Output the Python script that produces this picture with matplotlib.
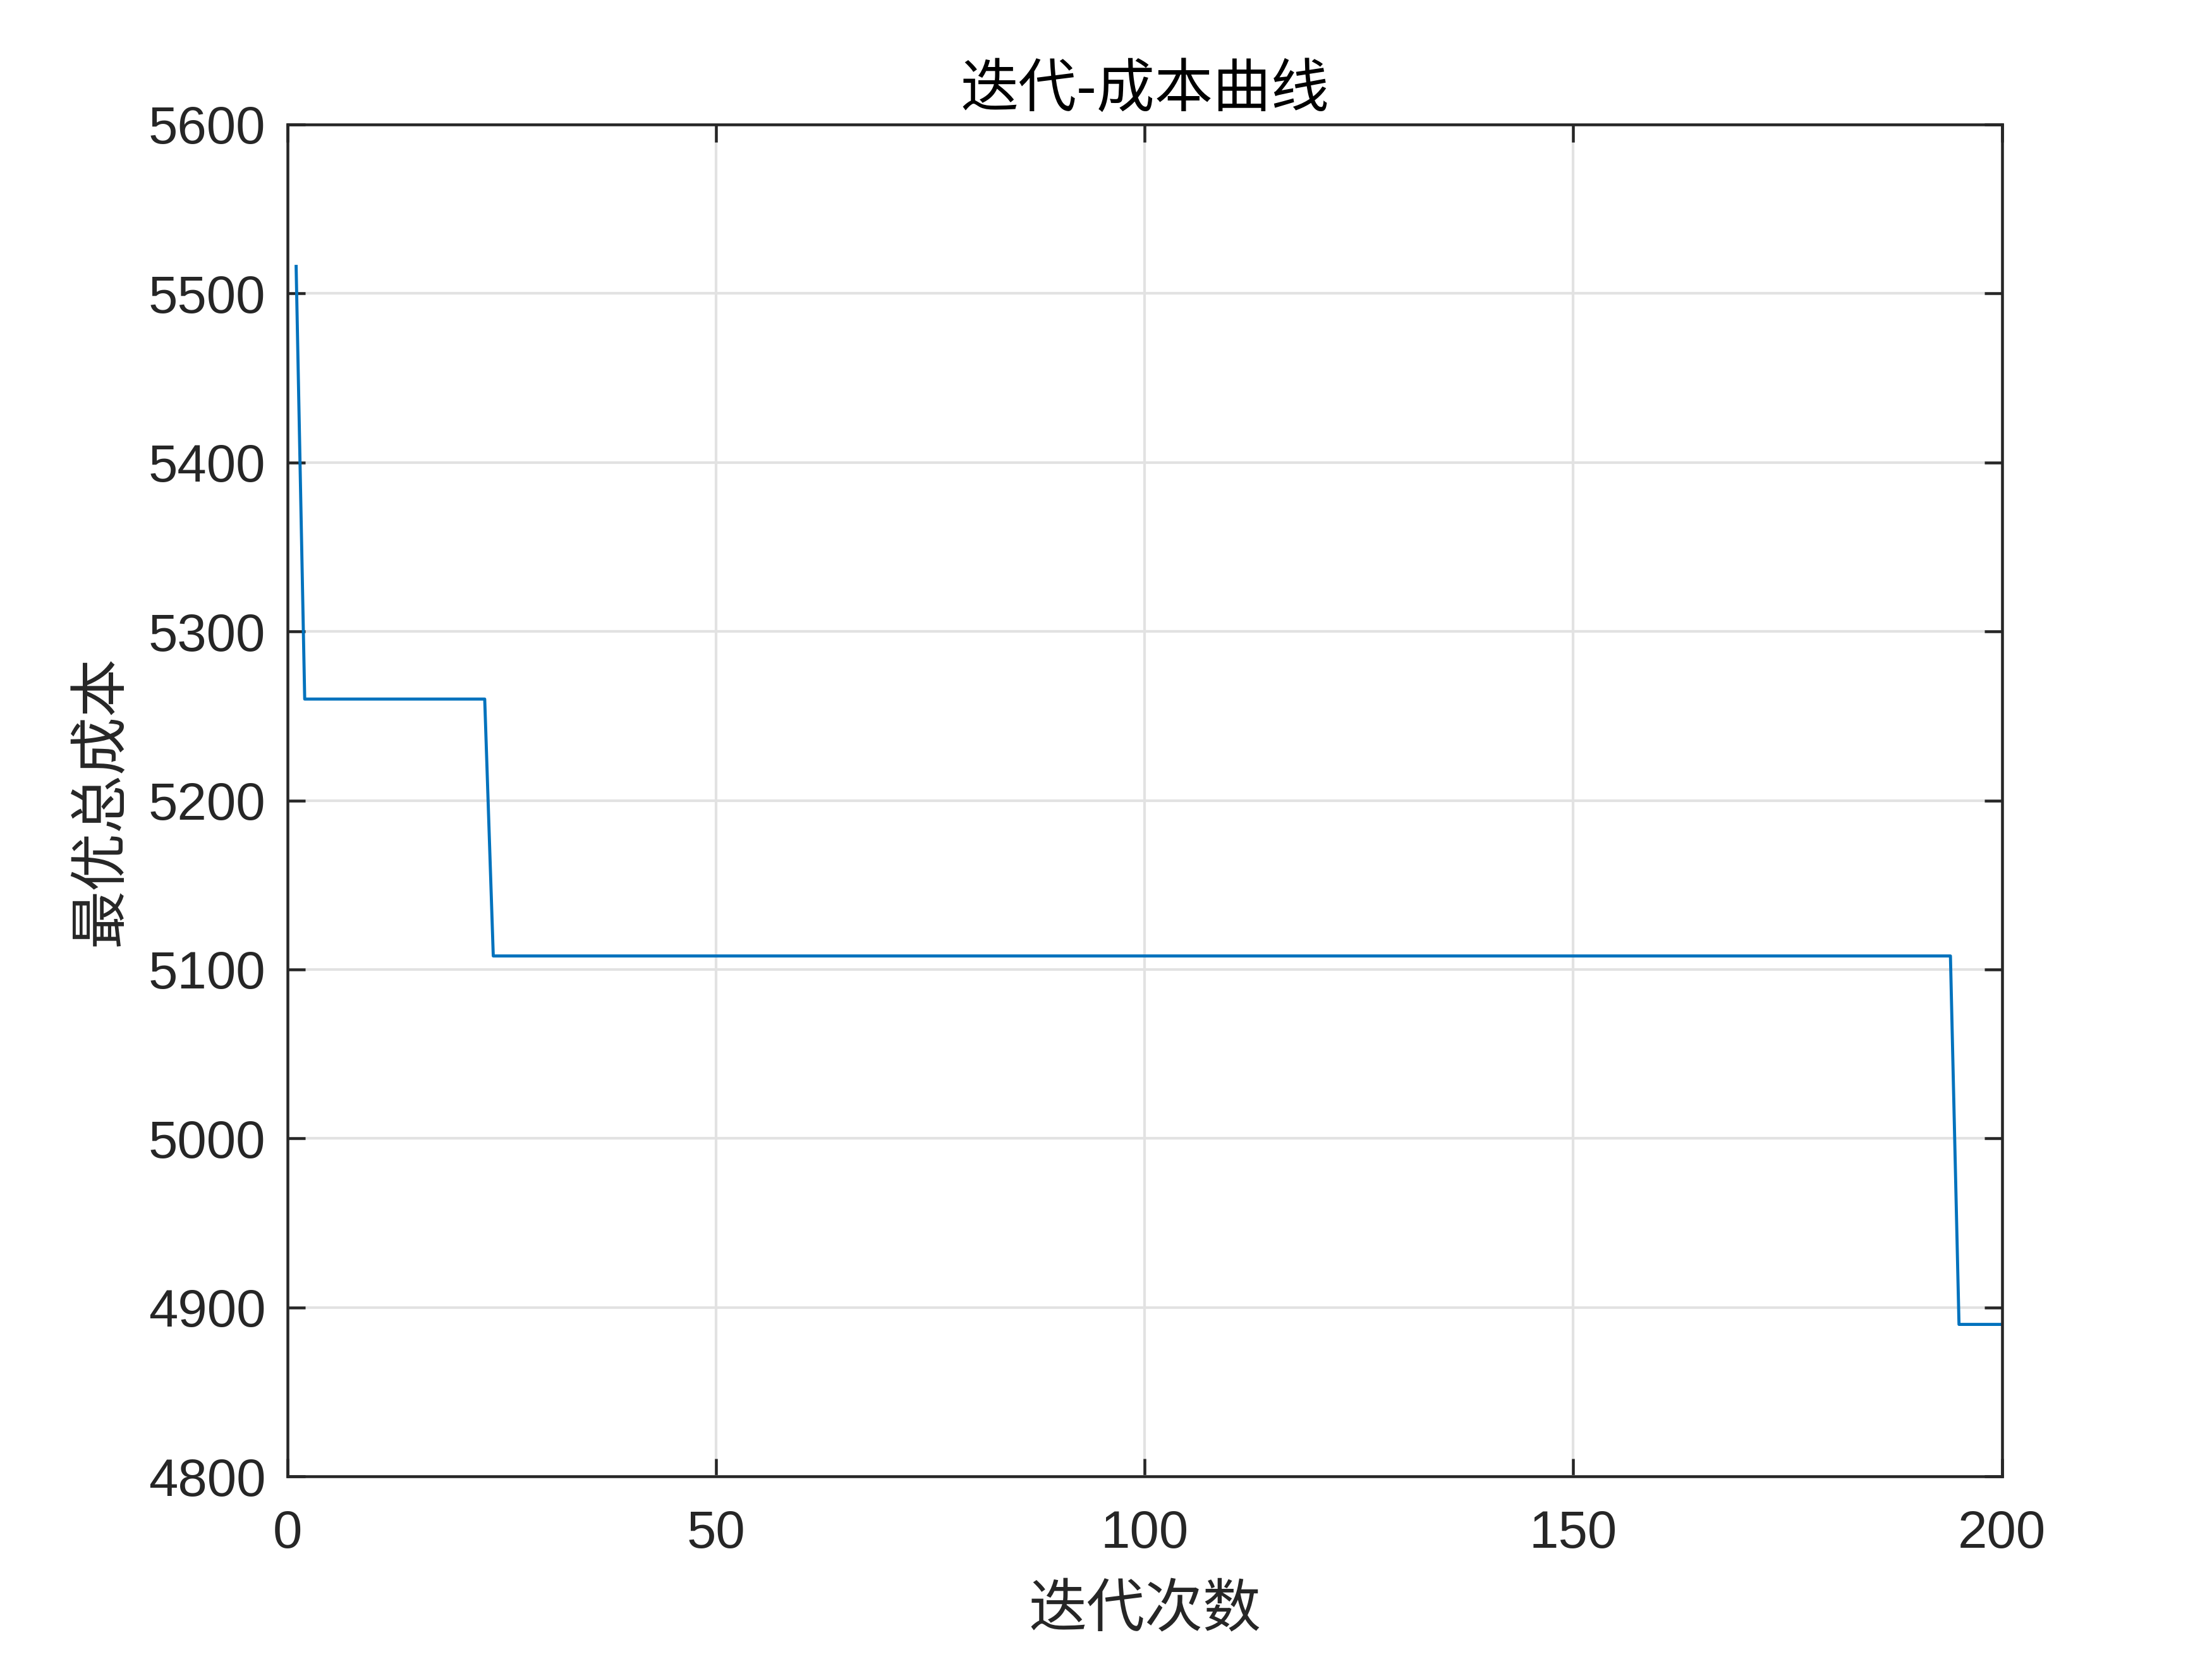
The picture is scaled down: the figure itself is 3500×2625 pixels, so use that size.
#!/usr/bin/env python3
"""
Iteration vs. best total cost curve (MATLAB-style figure).
Saves out.png
"""

import matplotlib
matplotlib.use("Agg")
import matplotlib.pyplot as plt

# step breakpoints of the best-cost history
iterations = [1, 2, 23, 24, 194, 195, 200]
best_cost = [5516, 5260, 5260, 5108, 5108, 4890, 4890]

x_ticks = [0, 50, 100, 150, 200]
y_ticks = [4800, 4900, 5000, 5100, 5200, 5300, 5400, 5500, 5600]

CJK = ["Noto Sans CJK SC", "DejaVu Sans"]
AXIS_GRAY = "#262626"

plt.rcParams["font.family"] = ["Liberation Sans", "DejaVu Sans"]

fig = plt.figure(figsize=(14, 10.5), dpi=250)
ax = fig.add_axes([0.13, 0.11, 0.775, 0.815])

ax.plot(iterations, best_cost, color="#0072BD", linewidth=1.4)

ax.set_xlim(0, 200)
ax.set_ylim(4800, 5600)
ax.set_xticks(x_ticks)
ax.set_yticks(y_ticks)

ax.grid(True, color="#e2e2e2", linewidth=1.2)
ax.set_axisbelow(True)

for sp in ax.spines.values():
    sp.set_color(AXIS_GRAY)
    sp.set_linewidth(1.3)

ax.tick_params(direction="in", length=8, width=1.3, colors=AXIS_GRAY,
               labelsize=24, top=True, right=True)
ax.tick_params(axis="x", pad=15)
ax.tick_params(axis="y", pad=10)
for lbl in ax.get_xticklabels() + ax.get_yticklabels():
    lbl.set_color(AXIS_GRAY)

ax.set_title("迭代-成本曲线", family=CJK, fontsize=26.5, color="black", pad=8)
ax.set_xlabel("迭代次数", family=CJK, fontsize=26.5, color=AXIS_GRAY, labelpad=10)
ax.set_ylabel("最优总成本", family=CJK, fontsize=26.5, color=AXIS_GRAY, labelpad=8)

fig.savefig("out.png", dpi=250, facecolor="white")
